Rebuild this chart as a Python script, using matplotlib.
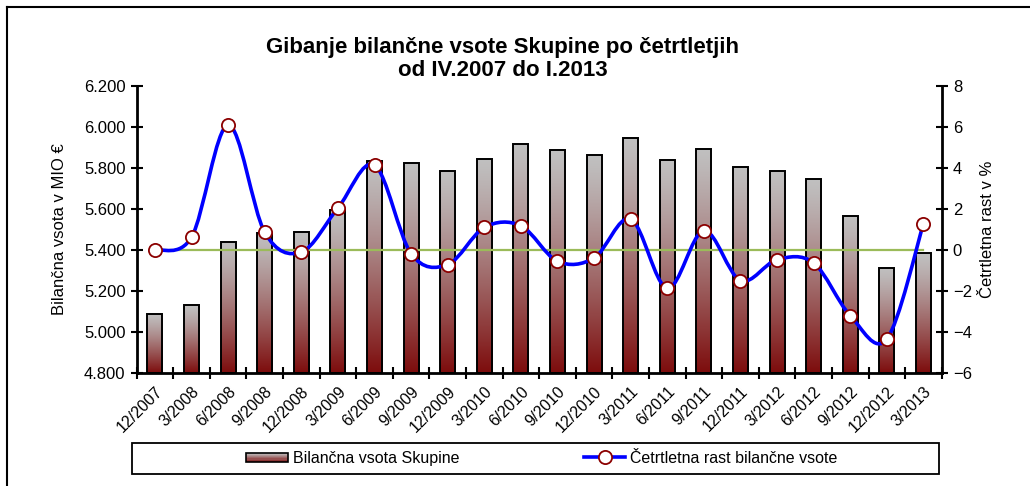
import numpy as np
import matplotlib
matplotlib.use("Agg")
import matplotlib.pyplot as plt
from matplotlib.patches import Rectangle
from matplotlib.lines import Line2D
from matplotlib.legend_handler import HandlerBase
from matplotlib.path import Path
from matplotlib.patches import PathPatch
from matplotlib.ticker import FuncFormatter, MultipleLocator

plt.rcParams['font.family'] = ['Liberation Sans', 'DejaVu Sans']

categories = ["12/2007", "3/2008", "6/2008", "9/2008", "12/2008", "3/2009", "6/2009",
              "9/2009", "12/2009", "3/2010", "6/2010", "9/2010", "12/2010", "3/2011",
              "6/2011", "9/2011", "12/2011", "3/2012", "6/2012", "9/2012", "12/2012", "3/2013"]
balance = [5090, 5130, 5440, 5485, 5490, 5597, 5834, 5823, 5785, 5845, 5917, 5886,
           5863, 5948, 5839, 5894, 5806, 5785, 5746, 5566, 5314, 5385]
growth = [0.0, 0.63, 6.1, 0.86, -0.1, 2.05, 4.14, -0.18, -0.71, 1.1, 1.18, -0.55,
          -0.39, 1.51, -1.87, 0.94, -1.49, -0.47, -0.63, -3.2, -4.35, 1.27]

title = "Gibanje bilančne vsote Skupine po četrtletjih\nod IV.2007 do I.2013"
ylabel_left = "Bilančna vsota v MIO €"
ylabel_right = "Četrtletna rast v %"
legend_bar = "Bilančna vsota Skupine"
legend_line = "Četrtletna rast bilančne vsote"

GRAY = np.array([192, 192, 192]) / 255
RED = np.array([125, 12, 12]) / 255


def gradient_img(n=256):
    t = np.linspace(0, 1, n) ** 1.25
    img = GRAY[None, :] * (1 - t[:, None]) + RED[None, :] * t[:, None]
    return img[:, None, :]


W, H = 1030, 486
fig = plt.figure(figsize=(W / 100, H / 100), dpi=100)

# outer frame (top and left visible)
fig.add_artist(Line2D([7 / W, 1.0], [1 - 7 / H, 1 - 7 / H], color='black', lw=1.5, transform=fig.transFigure))
fig.add_artist(Line2D([7 / W, 7 / W], [0, 1 - 7 / H], color='black', lw=1.5, transform=fig.transFigure))

left, right, top, bottom = 136.7, 941.7, 86, 373
ax = fig.add_axes([left / W, 1 - bottom / H, (right - left) / W, (bottom - top) / H])
ax2 = ax.twinx()

x = np.arange(len(categories))
bw = 0.41
grad = gradient_img()
for xi, v in zip(x, balance):
    ax.imshow(grad, extent=(xi - bw / 2, xi + bw / 2, 4800, v), aspect='auto',
              origin='upper', zorder=2, interpolation='bilinear')
    ax.add_patch(Rectangle((xi - bw / 2, 4800), bw, v - 4800, fill=False,
                           edgecolor='black', lw=1.4, zorder=3))

ax.set_xlim(-0.5, len(categories) - 0.5)
ax.set_ylim(4800, 6200)
ax.yaxis.set_major_locator(MultipleLocator(200))
ax.yaxis.set_major_formatter(FuncFormatter(lambda v, p: f"{int(v):,}".replace(",", ".")))
ax.set_xticks(x)
ax.set_xticklabels(categories, rotation=45, ha='right', rotation_mode='anchor', fontsize=11.5)
ax.set_xticks(np.arange(-0.5, len(categories), 1.0), minor=True)
ax.tick_params(axis='x', which='major', length=0, pad=8)
ax.tick_params(axis='x', which='minor', direction='inout', length=9, width=1.5)
ax.tick_params(axis='y', direction='inout', length=9, width=1.5, labelsize=12)
ax.set_ylabel(ylabel_left, fontsize=12, labelpad=12)
for s in ['top']:
    ax.spines[s].set_visible(False)
    ax2.spines[s].set_visible(False)
for s in ['left', 'bottom']:
    ax.spines[s].set_linewidth(2)
ax2.spines['right'].set_linewidth(2)
ax2.spines['left'].set_visible(False)
ax2.spines['bottom'].set_visible(False)
ax.spines['right'].set_visible(False)

ax2.set_ylim(-6, 8)
ax2.yaxis.set_major_locator(MultipleLocator(2))
ax2.tick_params(axis='y', direction='inout', length=9, width=1.5, labelsize=12)
ax2.set_ylabel(ylabel_right, fontsize=12, labelpad=6)

# zero line
ax2.plot([x[0], x[-1]], [0, 0], color='#9BBB59', lw=1.6, zorder=3)

# smoothed line (Bezier through points, Excel-like)
g = np.array(growth)
P = np.column_stack([x, g]).astype(float)
verts = [tuple(P[0])]
codes = [Path.MOVETO]
n = len(P)
for i in range(n - 1):
    p0 = P[i - 1] if i > 0 else P[i]
    p1 = P[i]
    p2 = P[i + 1]
    p3 = P[i + 2] if i + 2 < n else P[i + 1]
    c1 = p1 + (p2 - p0) / 6
    c2 = p2 - (p3 - p1) / 6
    verts += [tuple(c1), tuple(c2), tuple(p2)]
    codes += [Path.CURVE4] * 3
ax2.add_patch(PathPatch(Path(verts, codes), fill=False, edgecolor='#0000FF', lw=2.6, zorder=4))
ax2.plot(x, g, linestyle='none', marker='o', markersize=9.5, markerfacecolor='white',
         markeredgecolor='#8B0000', markeredgewidth=1.3, zorder=5)

fig.text(503 / W, 1 - 59 / H, title, ha='center', va='center', fontsize=16,
         fontweight='bold', linespacing=1.15)


class GradientHandler(HandlerBase):
    def create_artists(self, legend, orig_handle, xdescent, ydescent, width, height, fontsize, trans):
        arts = []
        hh = height * 0.75
        y0 = -ydescent + (height - hh) / 2
        nstr = 8
        for k in range(nstr):
            t = ((k + 0.5) / nstr) ** 1.25
            c = GRAY * (1 - t) + RED * t
            arts.append(Rectangle((-xdescent, y0 + hh * (1 - (k + 1) / nstr)), width, hh / nstr,
                                  facecolor=c, edgecolor='none', transform=trans))
        arts.append(Rectangle((-xdescent, y0), width, hh, fill=False, edgecolor='black', lw=1.2,
                              transform=trans))
        return arts


bar_handle = Rectangle((0, 0), 1, 1)
line_handle = Line2D([], [], color='#0000FF', lw=2.6, marker='o', markersize=9.5,
                     markerfacecolor='white', markeredgecolor='#8B0000', markeredgewidth=1.3)
leg = fig.legend([bar_handle, line_handle], [legend_bar, legend_line], ncol=2,
                 loc='center', bbox_to_anchor=(542 / W, 1 - 458.5 / H), frameon=False,
                 fontsize=11.5, handlelength=2.6, handletextpad=0.3, columnspacing=7.8,
                 numpoints=1, handler_map={Rectangle: GradientHandler()})

# legend box
fig.add_artist(Rectangle((132 / W, 1 - 474 / H), (939 - 132) / W, (474 - 443) / H,
                         fill=False, edgecolor='black', lw=1.3, transform=fig.transFigure))

fig.savefig("out.png", dpi=100)
